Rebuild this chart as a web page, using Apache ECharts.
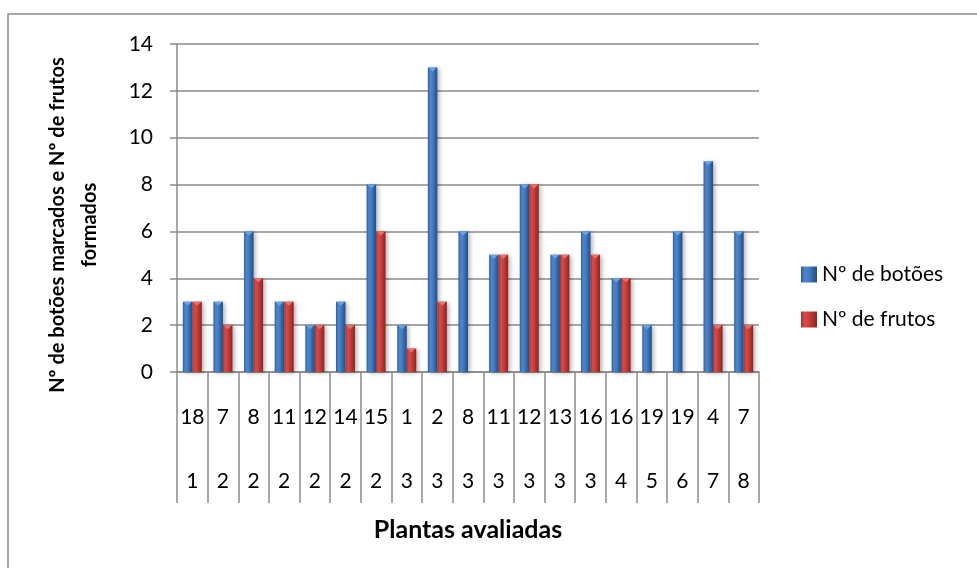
<!DOCTYPE html>
<html>
<head>
<meta charset="utf-8">
<script src="https://cdn.jsdelivr.net/npm/echarts@6/dist/echarts.min.js"></script>
<style>
  html, body { margin: 0; padding: 0; background: #fff; }
  #chart { width: 977px; height: 568px; }
</style>
</head>
<body>
<div id="chart"></div>
<script>
// Plant number (upper label row) and evaluation group (lower label row)
const plantLabels = ['18', '7', '8', '11', '12', '14', '15', '1', '2', '8', '11', '12', '13', '16', '16', '19', '19', '4', '7'];
const groupLabels = ['1', '2', '2', '2', '2', '2', '2', '3', '3', '3', '3', '3', '3', '3', '4', '5', '6', '7', '8'];

// Counts per plant
const botoes = [3, 3, 6, 3, 2, 3, 8, 2, 13, 6, 5, 8, 5, 6, 4, 2, 6, 9, 6];
const frutos = [3, 2, 4, 3, 2, 2, 6, 1, 3, 0, 5, 8, 5, 5, 4, 0, 0, 2, 2];

const seriesNames = ['Nº de botões', 'Nº de frutos'];
const yAxisTitle = 'Nº de botões marcados e Nº de frutos\nformados';
const xAxisTitle = 'Plantas avaliadas';
const yMin = 0, yMax = 14, yStep = 2;

const FONT = 'Lato, "Open Sans", sans-serif';
const GRAY = '#8a8a8a';
const CATEGORY_GAP = 0.38;

// Horizontal shading that gives the bars a rounded look
function shade(stops) {
  return {
    type: 'linear', x: 0, y: 0, x2: 1, y2: 0,
    colorStops: stops.map(function (c, i) { return { offset: i / (stops.length - 1), color: c }; })
  };
}
const blueFill = shade(['#2e5e9f', '#4d86ca', '#457cbf', '#3164a6', '#244f88']);
const redFill = shade(['#a8302d', '#d24f4b', '#c63f3c', '#ad312e', '#8a2422']);

// Small bevel highlight on top of each bar, placed with the axis scales
function bevelCap(side, color) {
  return function (params, api) {
    const v = api.value(1);
    if (!v) return null;
    const top = api.coord([api.value(0), v]);
    const catW = api.size([1, 0])[0];
    const bw = catW * (1 - CATEGORY_GAP) / 2;
    const x0 = top[0] + (side < 0 ? -bw : 0);
    const h = Math.min(4, bw * 0.45);
    return {
      type: 'polygon',
      shape: { points: [[x0 + 0.5, top[1]], [x0 + bw - 0.5, top[1]], [x0 + bw / 2, top[1] + h]] },
      style: { fill: color }
    };
  };
}
function pairs(values) { return values.map(function (v, i) { return [i, v]; }); }

const chart = echarts.init(document.getElementById('chart'), null, { renderer: 'canvas' });

const barShadow = { shadowColor: 'rgba(0,0,0,0.3)', shadowBlur: 4, shadowOffsetX: 2, shadowOffsetY: 1 };

chart.setOption({
  backgroundColor: '#fff',
  animation: false,
  textStyle: { fontFamily: FONT },
  graphic: [{
    type: 'rect',
    shape: { x: 8, y: 14, width: 1000, height: 600 },
    style: { fill: 'none', stroke: GRAY, lineWidth: 1.5 },
    silent: true,
    z: -10
  }],
  grid: { left: 177, right: 218, top: 44, bottom: 196, containLabel: false },
  legend: {
    orient: 'vertical',
    left: 796,
    top: 259,
    itemWidth: 16,
    itemHeight: 16,
    itemGap: 24,
    icon: 'rect',
    textStyle: { fontFamily: FONT, fontSize: 21, color: '#000' },
    data: seriesNames
  },
  xAxis: [{
    type: 'category',
    data: plantLabels,
    position: 'bottom',
    axisLine: { show: true, lineStyle: { color: GRAY, width: 1.5 } },
    axisTick: { show: true, length: 131, lineStyle: { color: GRAY, width: 1.5 } },
    axisLabel: { interval: 0, margin: 35, fontFamily: FONT, fontSize: 21, color: '#000' },
    splitLine: { show: false },
    name: xAxisTitle,
    nameLocation: 'middle',
    nameGap: 145,
    nameTextStyle: { fontFamily: FONT, fontSize: 25, fontWeight: 'bold', color: '#000' }
  }, {
    type: 'category',
    data: groupLabels,
    position: 'bottom',
    axisLine: { show: false },
    axisTick: { show: false },
    axisLabel: { interval: 0, margin: 99, fontFamily: FONT, fontSize: 21, color: '#000' },
    splitLine: { show: false }
  }],
  yAxis: {
    type: 'value',
    min: yMin,
    max: yMax,
    interval: yStep,
    axisLine: { show: true, lineStyle: { color: GRAY, width: 1.5 } },
    axisTick: { show: true, length: 7, lineStyle: { color: GRAY, width: 1.5 } },
    axisLabel: { margin: 24, fontFamily: FONT, fontSize: 21, color: '#000' },
    splitLine: { show: true, lineStyle: { color: GRAY, width: 1.5 } },
    name: yAxisTitle,
    nameLocation: 'middle',
    nameGap: 71,
    nameTextStyle: {
      fontFamily: FONT, fontSize: 20, fontWeight: 'bold', color: '#000',
      lineHeight: 32, align: 'center', padding: [0, 34, 0, 0]
    }
  },
  series: [{
    name: seriesNames[0],
    type: 'bar',
    xAxisIndex: 0,
    data: botoes,
    barGap: '0%',
    barCategoryGap: (CATEGORY_GAP * 100) + '%',
    itemStyle: Object.assign({ color: blueFill }, barShadow)
  }, {
    name: seriesNames[1],
    type: 'bar',
    xAxisIndex: 0,
    data: frutos,
    barGap: '0%',
    barCategoryGap: (CATEGORY_GAP * 100) + '%',
    itemStyle: Object.assign({ color: redFill }, barShadow)
  }, {
    type: 'custom',
    silent: true,
    xAxisIndex: 0,
    data: pairs(botoes),
    encode: { x: 0, y: 1 },
    renderItem: bevelCap(-1, '#6ea3e2'),
    z: 3
  }, {
    type: 'custom',
    silent: true,
    xAxisIndex: 0,
    data: pairs(frutos),
    encode: { x: 0, y: 1 },
    renderItem: bevelCap(1, '#e4726e'),
    z: 3
  }]
});
</script>
</body>
</html>
